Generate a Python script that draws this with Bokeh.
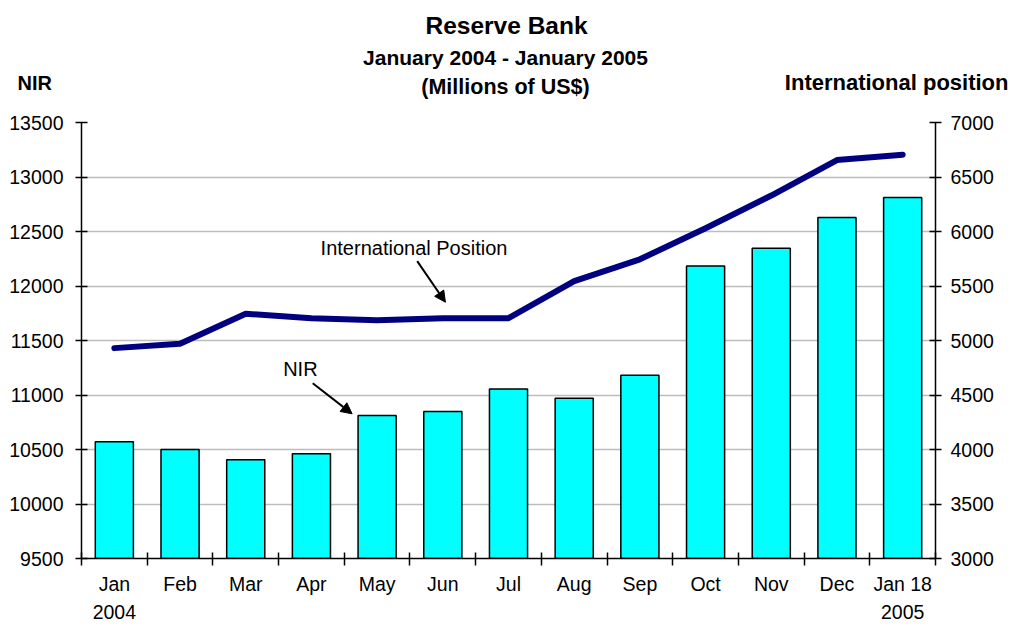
from bokeh.plotting import figure
from bokeh.layouts import column
from bokeh.models import (Range1d, LinearAxis, FixedTicker, Label, Arrow, NormalHead, Grid)
from bokeh.embed import file_html
from bokeh.resources import INLINE

# ---- data ----
months = ["Jan", "Feb", "Mar", "Apr", "May", "Jun", "Jul", "Aug", "Sep", "Oct", "Nov", "Dec", "Jan 18"]
month_labels = ["Jan\n2004", "Feb", "Mar", "Apr", "May", "Jun", "Jul", "Aug", "Sep", "Oct", "Nov", "Dec", "Jan 18\n2005"]
nir = [10570, 10500, 10405, 10460, 10812, 10848, 11055, 10970, 11181, 12183, 12346, 12628, 12812]
intl_pos = [4930, 4970, 5245, 5205, 5185, 5205, 5205, 5545, 5745, 6030, 6330, 6655, 6705]
nir_ticks = [9500, 10000, 10500, 11000, 11500, 12000, 12500, 13000, 13500]
ip_ticks = [3000, 3500, 4000, 4500, 5000, 5500, 6000, 6500, 7000]

title = "Reserve Bank"
subtitle = "January 2004 - January 2005"
units = "(Millions of US$)"
left_title = "NIR"
right_title = "International position"

# category slots: month i occupies [i, i+1], centre at i+0.5
n = len(months)
centers = [i + 0.5 for i in range(n)]
bounds = [float(i) for i in range(n + 1)]

FONT = "Liberation Sans"
TICK_FS = "19.5px"

# ---------------- header (titles) ----------------
W, HEAD_H = 1011, 100
h = figure(width=W, height=HEAD_H, x_range=Range1d(0, W), y_range=Range1d(HEAD_H, 0),
           x_axis_location=None, y_axis_location=None, toolbar_location=None,
           output_backend="svg", min_border=0)
h.outline_line_color = None
h.grid.visible = False
h.frame_align = False

def hlab(x, y, text, size, align="center"):
    h.add_layout(Label(x=x, y=y, text=text, text_font=FONT, text_font_size=size,
                       text_font_style="bold", text_align=align,
                       text_baseline="middle", text_color="black"))

hlab(506, 25, title, "24.5px")
hlab(505, 57, subtitle, "21px")
hlab(505, 86, units, "21.5px")
hlab(17, 82, left_title, "20px", align="left")
hlab(1008, 82, right_title, "22px", align="right")

# ---------------- main chart ----------------
p = figure(width=W, height=628 - HEAD_H,
           x_range=Range1d(0, n),
           y_range=Range1d(nir_ticks[0], nir_ticks[-1]),
           x_axis_location=None, y_axis_location=None,
           toolbar_location=None, output_backend="svg",
           min_border_left=81, min_border_right=76, min_border_top=22, min_border_bottom=70)
p.outline_line_color = None
p.grid.visible = False
p.frame_align = False
p.extra_y_ranges = {"ip": Range1d(ip_ticks[0], ip_ticks[-1])}

p.add_layout(Grid(dimension=1, ticker=FixedTicker(ticks=nir_ticks),
                  grid_line_color="#bdbdbd", grid_line_width=1.5))

def style_axis(ax):
    ax.axis_line_color = "black"
    ax.axis_line_width = 1.5
    ax.major_tick_line_color = "black"
    ax.major_tick_line_width = 1.5
    ax.minor_tick_line_color = None
    ax.major_label_text_font = FONT
    ax.major_label_text_font_size = TICK_FS
    ax.major_label_text_color = "black"

left = LinearAxis(ticker=FixedTicker(ticks=nir_ticks))
style_axis(left)
left.major_tick_in = 6
left.major_tick_out = 6
left.major_label_standoff = 12
p.add_layout(left, "left")

right = LinearAxis(y_range_name="ip", ticker=FixedTicker(ticks=ip_ticks))
style_axis(right)
right.major_tick_in = 6
right.major_tick_out = 6
right.major_label_standoff = 9
p.add_layout(right, "right")

xax = LinearAxis(ticker=FixedTicker(ticks=centers, minor_ticks=bounds),
                 major_label_overrides={c: m for c, m in zip(centers, month_labels)})
style_axis(xax)
xax.major_tick_line_color = None
xax.major_tick_in = 0
xax.major_tick_out = 0
xax.minor_tick_line_color = "black"
xax.minor_tick_line_width = 1.5
xax.minor_tick_in = 6
xax.minor_tick_out = 7
xax.major_label_standoff = 7
xax.major_label_text_line_height = 1.3
p.add_layout(xax, "below")

p.vbar(x=centers, top=nir, bottom=nir_ticks[0], width=0.58,
       fill_color="#00FFFF", line_color="black", line_width=1.5)
p.line(x=centers, y=intl_pos, y_range_name="ip", line_color="#000080",
       line_width=6, line_cap="round", line_join="round")

def lab(x, y, text, size):
    p.add_layout(Label(x=x, y=y, text=text, text_font=FONT, text_font_size=size,
                       text_align="left", text_baseline="middle", text_color="black"))

lab(3.64, 12353, "International Position", "20px")
lab(3.07, 11243, "NIR", "20px")
p.add_layout(Arrow(x_start=5.11, y_start=12228, x_end=5.54, y_end=11851,
                   line_color="black", line_width=2,
                   end=NormalHead(size=11, fill_color="black", line_color="black")))
p.add_layout(Arrow(x_start=3.52, y_start=11108, x_end=4.12, y_end=10827,
                   line_color="black", line_width=2,
                   end=NormalHead(size=11, fill_color="black", line_color="black")))

layout = column(h, p, spacing=0)
open("out.html", "w").write(file_html(layout, INLINE))
